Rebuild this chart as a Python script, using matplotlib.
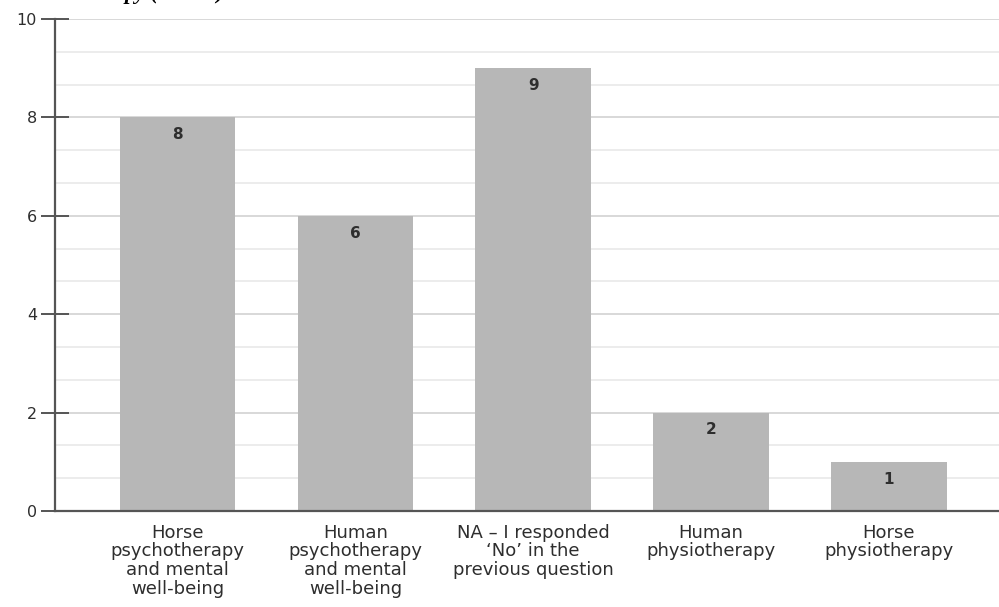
import matplotlib
matplotlib.use("Agg")
import matplotlib.pyplot as plt
from matplotlib.ticker import MultipleLocator

categories = [
    "Horse\npsychotherapy\nand mental\nwell-being",
    "Human\npsychotherapy\nand mental\nwell-being",
    "NA \u2013 I responded\n\u2018No\u2019 in the\nprevious question",
    "Human\nphysiotherapy",
    "Horse\nphysiotherapy",
]
counts = [8, 6, 9, 2, 1]

plt.rcParams["font.family"] = ["DejaVu Sans"]

fig = plt.figure(figsize=(9.99, 6.07), dpi=100)
ax = fig.add_axes([55 / 999, 96 / 607, 944 / 999, 492 / 607])

x = list(range(len(categories)))
bars = ax.bar(x, counts, width=0.65, color="#b7b7b7", zorder=2)

for rect, val in zip(bars, counts):
    ax.text(rect.get_x() + rect.get_width() / 2, val - 0.35, str(val),
            ha="center", va="center", fontsize=11, fontweight="bold",
            color="#2e2e2e", zorder=3)

ax.set_xlim(-0.69, 4.62)
ax.set_ylim(0, 10)
ax.yaxis.set_major_locator(MultipleLocator(2))
ax.yaxis.set_minor_locator(MultipleLocator(2 / 3))

ax.grid(axis="y", which="major", color="#d6d6d6", linewidth=1.3, zorder=0)
ax.grid(axis="y", which="minor", color="#ebebeb", linewidth=1.3, zorder=0)

for side in ["top", "right"]:
    ax.spines[side].set_visible(False)
for side in ["left", "bottom"]:
    ax.spines[side].set_color("#555555")
    ax.spines[side].set_linewidth(1.6)

ax.tick_params(axis="y", which="major", direction="inout", length=20,
               width=1.4, color="#555555", labelsize=11.5, pad=3,
               labelcolor="#2e2e2e")
ax.tick_params(axis="y", which="minor", length=0)
ax.tick_params(axis="x", length=0, labelsize=13, pad=9, labelcolor="#2e2e2e")

ax.set_xticks(x)
ax.set_xticklabels(categories, linespacing=1.07)

# title line above, mostly outside the canvas
fig.text(125 / 999, 1 + 1 / 607, "py (n = 26)", ha="left", va="baseline",
         fontsize=16, fontweight="bold", fontstyle="italic",
         family="Liberation Serif")

fig.savefig("out.png", dpi=100)
